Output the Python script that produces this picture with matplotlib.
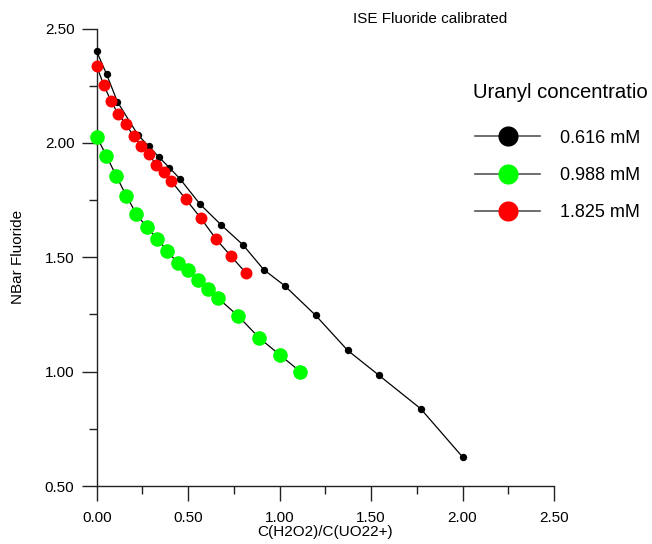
import numpy as np
import matplotlib.pyplot as plt
from matplotlib.lines import Line2D
from matplotlib.ticker import MultipleLocator, FormatStrFormatter

plt.rcParams['font.family'] = ['Liberation Sans', 'DejaVu Sans']

# datos
x_0616 = [0.0, 0.054, 0.113, 0.226, 0.284, 0.340, 0.397, 0.455, 0.566, 0.681,
          0.800, 0.913, 1.027, 1.197, 1.372, 1.543, 1.771, 2.000]
y_0616 = [2.400, 2.300, 2.180, 2.034, 1.986, 1.938, 1.892, 1.843, 1.731, 1.641,
          1.554, 1.446, 1.376, 1.246, 1.093, 0.984, 0.838, 0.627]

x_0988 = [0.0, 0.053, 0.107, 0.162, 0.216, 0.273, 0.330, 0.386, 0.443, 0.497,
          0.553, 0.608, 0.665, 0.774, 0.889, 1.000, 1.113]
y_0988 = [2.027, 1.944, 1.855, 1.769, 1.690, 1.632, 1.581, 1.529, 1.473, 1.444,
          1.399, 1.360, 1.320, 1.243, 1.147, 1.074, 1.000]

x_1825 = [0.0, 0.038, 0.078, 0.118, 0.160, 0.202, 0.244, 0.284, 0.326, 0.366,
          0.408, 0.488, 0.570, 0.654, 0.734, 0.814]
y_1825 = [2.335, 2.254, 2.183, 2.125, 2.081, 2.029, 1.986, 1.950, 1.905, 1.874,
          1.833, 1.753, 1.670, 1.578, 1.505, 1.433]

etiquetas = ['0.616 mM', '0.988 mM', '1.825 mM']
colores = ['black', '#00ff00', '#ff0000']

fig = plt.figure(figsize=(6.52, 5.44), dpi=100)
ax = fig.add_axes([0.1483, 0.1066, 0.7014, 0.841])

# series: lineas negras finas con marcadores de colores
ax.plot(x_0616, y_0616, '-', color='black', lw=0.9, marker='o', ms=5.3,
        mfc=colores[0], mec='none', zorder=3, clip_on=False)
ax.plot(x_0988, y_0988, '-', color='black', lw=0.9, marker='o', ms=10.5,
        mfc=colores[1], mec='none', zorder=3, clip_on=False)
ax.plot(x_1825, y_1825, '-', color='black', lw=0.9, marker='o', ms=8.6,
        mfc=colores[2], mec='none', zorder=4, clip_on=False)

ax.set_xlim(0, 2.5)
ax.set_ylim(0.5, 2.5)
ax.xaxis.set_major_locator(MultipleLocator(0.5))
ax.xaxis.set_minor_locator(MultipleLocator(0.25))
ax.yaxis.set_major_locator(MultipleLocator(0.5))
ax.yaxis.set_minor_locator(MultipleLocator(0.25))
ax.xaxis.set_major_formatter(FormatStrFormatter('%.2f'))
ax.yaxis.set_major_formatter(FormatStrFormatter('%.2f'))

for s in ['top', 'right']:
    ax.spines[s].set_visible(False)
for s in ['left', 'bottom']:
    ax.spines[s].set_linewidth(1.0)
    ax.spines[s].set_color('#222222')

ax.tick_params(which='major', length=11, width=1.0, labelsize=11, color='#222222')
ax.tick_params(which='minor', length=6, width=1.0, color='#222222')
ax.tick_params(axis='y', which='major', pad=5)
ax.tick_params(axis='x', which='major', pad=7)

ax.set_xlabel('C(H2O2)/C(UO22+)', fontsize=11, labelpad=0)
ax.set_ylabel('NBar Fluoride', fontsize=11, labelpad=14)

fig.text(0.659, 0.965, 'ISE Fluoride calibrated', fontsize=11, ha='center', va='center')

# leyenda
fig.text(473 / 652, 1 - 93 / 544, 'Uranyl concentratio', fontsize=14.6,
         ha='left', va='center')
handles = [Line2D([0], [0], color='#555555', lw=1.2, marker='o', ms=14.5,
                  mfc=c, mec='none') for c in colores]
leg = fig.legend(handles, etiquetas, loc='upper left', bbox_to_anchor=(0.715, 0.778),
                 fontsize=13, frameon=False, handlelength=3.6, handletextpad=1.1,
                 labelspacing=1.12, borderpad=0)

plt.savefig('out.png', dpi=100)
